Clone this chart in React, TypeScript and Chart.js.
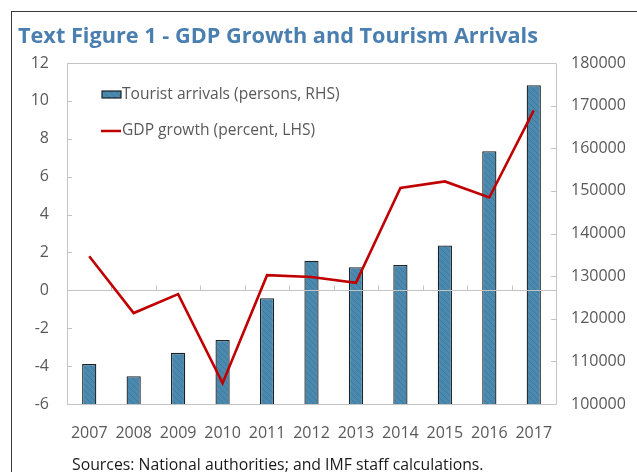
import React, { useEffect, useRef } from "react";
import { Chart, registerables } from "chart.js";

Chart.register(...registerables);

// ---- Data ----
const years = ["2007", "2008", "2009", "2010", "2011", "2012", "2013", "2014", "2015", "2016", "2017"];
const touristArrivals = [109400, 106500, 112000, 115000, 124800, 133600, 132100, 132600, 137200, 159300, 174800];
const gdpGrowth = [1.8, -1.2, -0.2, -4.9, 0.8, 0.7, 0.4, 5.4, 5.75, 4.9, 9.5];
const leftTicks = [-6, -4, -2, 0, 2, 4, 6, 8, 10, 12];
const rightTicks = [100000, 110000, 120000, 130000, 140000, 150000, 160000, 170000, 180000];

const titleText = "Text Figure 1 - GDP Growth and Tourism Arrivals";
const sourceText = "Sources: National authorities; and IMF staff calculations.";
const barLabel = "Tourist arrivals (persons, RHS)";
const lineLabel = "GDP growth (percent, LHS)";

const FONT = "'Open Sans', 'Noto Sans', sans-serif";
const TICK_COLOR = "#595959";
const AXIS_COLOR = "#C4C4C4";
const BAR_BORDER = "#1c2226";
const LINE_COLOR = "#C00000";

function makePattern(): CanvasPattern | string {
  const c = document.createElement("canvas");
  c.width = 6;
  c.height = 6;
  const g = c.getContext("2d");
  if (!g) return "#4A88AE";
  g.fillStyle = "#4B89AE";
  g.fillRect(0, 0, 6, 6);
  g.strokeStyle = "#3E7A9E";
  g.lineWidth = 1;
  g.beginPath();
  g.moveTo(0, 0);
  g.lineTo(6, 6);
  g.moveTo(-3, 3);
  g.lineTo(3, 9);
  g.moveTo(3, -3);
  g.lineTo(9, 3);
  g.stroke();
  return g.createPattern(c, "repeat") || "#4A88AE";
}

export default function App() {
  const canvasRef = useRef<HTMLCanvasElement | null>(null);

  useEffect(() => {
    document.body.style.margin = "0";
    const canvas = canvasRef.current;
    if (!canvas) return;
    const pattern = makePattern();

    const framePlugin = {
      id: "framePlugin",
      beforeDatasetsDraw(chart: any) {
        const { ctx, chartArea } = chart;
        const { left, right, top, bottom } = chartArea;
        ctx.save();
        ctx.strokeStyle = AXIS_COLOR;
        ctx.lineWidth = 1;
        ctx.beginPath();
        ctx.rect(Math.round(left) + 0.5, Math.round(top) + 0.5, Math.round(right - left), Math.round(bottom - top));
        ctx.stroke();
        const yL = chart.scales.y;
        const yR = chart.scales.y1;
        ctx.beginPath();
        leftTicks.forEach((v) => {
          const p = Math.round(yL.getPixelForValue(v)) + 0.5;
          ctx.moveTo(left, p);
          ctx.lineTo(left + 5, p);
        });
        rightTicks.forEach((v) => {
          const p = Math.round(yR.getPixelForValue(v)) + 0.5;
          ctx.moveTo(right - 5, p);
          ctx.lineTo(right, p);
        });
        ctx.stroke();
        ctx.restore();
      },
      afterDatasetDraw(chart: any, args: any) {
        if (args.index !== 0) return;
        const { ctx, chartArea } = chart;
        const { left, right } = chartArea;
        const yL = chart.scales.y;
        const z = Math.round(yL.getPixelForValue(0)) + 0.5;
        ctx.save();
        ctx.strokeStyle = AXIS_COLOR;
        ctx.lineWidth = 1;
        ctx.beginPath();
        ctx.moveTo(left, z);
        ctx.lineTo(right, z);
        const n = years.length;
        for (let k = 1; k < n; k++) {
          const x = Math.round(left + ((right - left) * k) / n) + 0.5;
          ctx.moveTo(x, z);
          ctx.lineTo(x, z - 5);
        }
        ctx.stroke();
        ctx.restore();
      },
      afterDraw(chart: any) {
        const { ctx } = chart;
        ctx.save();
        // bar legend item
        ctx.fillStyle = pattern as any;
        ctx.fillRect(102, 91, 19, 7);
        ctx.strokeStyle = BAR_BORDER;
        ctx.lineWidth = 1.2;
        ctx.strokeRect(102, 91, 19, 7);
        // line legend item
        ctx.strokeStyle = LINE_COLOR;
        ctx.lineWidth = 2.5;
        ctx.beginPath();
        ctx.moveTo(101, 131);
        ctx.lineTo(121, 131);
        ctx.stroke();
        ctx.fillStyle = TICK_COLOR;
        ctx.font = `15.6px ${FONT}`;
        ctx.textBaseline = "middle";
        ctx.textAlign = "left";
        ctx.fillText(barLabel, 122, 95);
        ctx.fillText(lineLabel, 122, 131);
        ctx.restore();
      },
    };

    const chart = new Chart(canvas, {
      type: "bar",
      data: {
        labels: years,
        datasets: [
          {
            type: "bar",
            label: barLabel,
            data: touristArrivals,
            yAxisID: "y1",
            backgroundColor: pattern as any,
            borderColor: BAR_BORDER,
            borderWidth: 1.3,
            barPercentage: 0.32,
            categoryPercentage: 1,
            order: 2,
          },
          {
            type: "line",
            label: lineLabel,
            data: gdpGrowth,
            yAxisID: "y",
            borderColor: LINE_COLOR,
            borderWidth: 2.6,
            pointRadius: 0,
            tension: 0,
            fill: false,
            order: 1,
          },
        ] as any,
      },
      options: {
        responsive: false,
        animation: false,
        devicePixelRatio: 1,
        layout: { padding: { top: 63, left: 0, right: 0, bottom: 0 } },
        plugins: {
          legend: { display: false },
          tooltip: { enabled: false },
          title: { display: false },
        },
        scales: {
          x: {
            grid: { display: false, drawTicks: false },
            border: { display: false },
            ticks: {
              color: TICK_COLOR,
              font: { family: FONT, size: 16 },
              padding: 20,
              maxRotation: 0,
              autoSkip: false,
            },
            afterFit(s: any) {
              s.height = 68;
            },
          },
          y: {
            position: "left",
            min: leftTicks[0],
            max: leftTicks[leftTicks.length - 1],
            grid: { display: false, drawTicks: false },
            border: { display: false },
            ticks: {
              stepSize: 2,
              color: TICK_COLOR,
              font: { family: FONT, size: 16 },
              padding: 18,
              callback: (v: any) => String(v),
            },
            afterFit(s: any) {
              s.width = 67;
            },
          },
          y1: {
            position: "right",
            min: rightTicks[0],
            max: rightTicks[rightTicks.length - 1],
            grid: { display: false, drawTicks: false },
            border: { display: false },
            ticks: {
              stepSize: 10000,
              color: TICK_COLOR,
              font: { family: FONT, size: 16 },
              padding: 15,
              callback: (v: any) => String(v),
            },
            afterFit(s: any) {
              s.width = 81;
            },
          },
        } as any,
      },
      plugins: [framePlugin],
    });

    return () => chart.destroy();
  }, []);

  return (
    <div style={{ position: "relative", width: 637, height: 472, overflow: "hidden", background: "#fff" }}>
      <div
        style={{
          position: "absolute",
          left: 11,
          top: 11,
          width: 700,
          height: 600,
          borderLeft: "1.5px solid #3a3a3a",
          borderTop: "1.5px solid #3a3a3a",
          boxSizing: "border-box",
        }}
      />
      <canvas ref={canvasRef} width={637} height={472} style={{ position: "absolute", left: 0, top: 0 }} />
      <div
        style={{
          position: "absolute",
          left: 18,
          top: 24,
          fontFamily: FONT,
          fontWeight: 700,
          fontSize: 21.7,
          lineHeight: "22px",
          color: "#4A7FB0",
          whiteSpace: "nowrap",
        }}
      >
        {titleText}
      </div>
      <div
        style={{
          position: "absolute",
          left: 72,
          top: 456,
          fontFamily: FONT,
          fontSize: 15.8,
          lineHeight: "16px",
          color: "#1a1a1a",
          whiteSpace: "nowrap",
        }}
      >
        {sourceText}
      </div>
    </div>
  );
}
